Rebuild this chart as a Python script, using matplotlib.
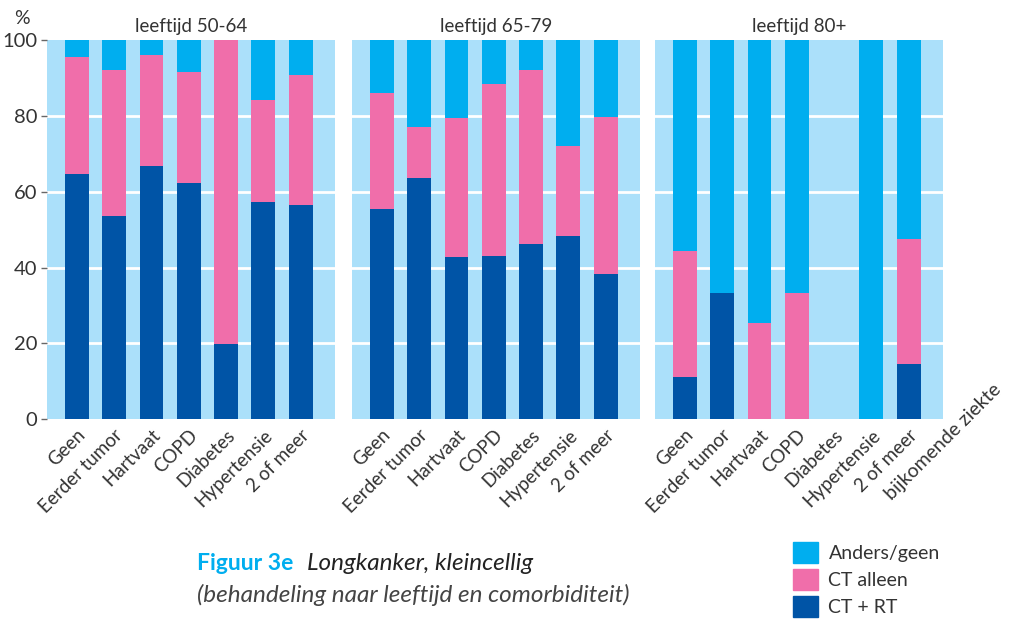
import matplotlib
matplotlib.use("Agg")
import matplotlib.pyplot as plt
from matplotlib.patches import Patch

plt.rcParams['font.family'] = ['Lato', 'DejaVu Sans']

categories = ['Geen', 'Eerder tumor', 'Hartvaat', 'COPD', 'Diabetes', 'Hypertensie', '2 of meer']
panel_titles = ['leeftijd 50-64', 'leeftijd 65-79', 'leeftijd 80+']

# percentages per age group, same order as categories
ct_rt = [
    [64.7, 53.6, 66.8, 62.3, 19.9, 57.3, 56.5],
    [55.4, 63.6, 42.8, 43.1, 46.3, 48.4, 38.3],
    [11.1, 33.3, 0.0, 0.0, 0.0, 0.0, 14.6],
]
ct_alleen = [
    [30.7, 38.5, 29.2, 29.3, 80.1, 26.9, 34.2],
    [30.6, 13.5, 36.7, 45.3, 45.8, 23.7, 41.4],
    [33.3, 0.0, 25.4, 33.3, 0.0, 0.0, 32.9],
]
anders = [
    [4.6, 7.9, 4.0, 8.4, 0.0, 15.8, 9.3],
    [14.0, 22.9, 20.5, 11.6, 7.9, 27.9, 20.3],
    [55.6, 66.7, 74.6, 66.7, 0.0, 100.0, 52.5],
]

c_dark = '#0054a6'
c_pink = '#f06eaa'
c_cyan = '#00aeef'
c_bg = '#abe0fa'
c_text = '#333333'

fig = plt.figure(figsize=(10.14, 6.28), dpi=100)
lefts = [47, 352, 655]
axes = []
for k in range(3):
    ax = fig.add_axes([lefts[k] / 1014, 1 - 419.3 / 628, 288 / 1014, 379.3 / 628])
    axes.append(ax)
    x = range(len(categories))
    ax.set_facecolor(c_bg)
    for v in [20, 40, 60, 80]:
        ax.axhline(v, color='white', lw=2, zorder=1)
    ax.bar(x, ct_rt[k], 0.64, color=c_dark, zorder=2)
    ax.bar(x, ct_alleen[k], 0.64, bottom=ct_rt[k], color=c_pink, zorder=2)
    bottoms = [a + b for a, b in zip(ct_rt[k], ct_alleen[k])]
    ax.bar(x, anders[k], 0.64, bottom=bottoms, color=c_cyan, zorder=2)
    ax.set_xlim(-0.8, 6.92)
    ax.set_ylim(0, 100)
    for s in ax.spines.values():
        s.set_visible(False)
    ax.set_xticks(list(x))
    ax.set_xticklabels(categories, rotation=45, ha='right', rotation_mode='anchor',
                       fontsize=13.5, color=c_text)
    ax.tick_params(axis='x', length=0, pad=5)
    ax.set_title(panel_titles[k], fontsize=13.5, color=c_text, pad=6)
    if k == 0:
        ax.set_yticks([0, 20, 40, 60, 80, 100])
        ax.tick_params(axis='y', length=4, width=1, color='#666666', labelsize=14.5,
                       labelcolor=c_text, pad=3)
    else:
        ax.set_yticks([])

axes[2].text(5.56, -21.5, 'bijkomende ziekte', rotation=45, ha='left', va='baseline',
             rotation_mode='anchor', fontsize=14, color=c_text, clip_on=False,
             transform=axes[2].transData)
fig.text(14 / 1014, 1 - 18 / 628, '%', fontsize=14, color=c_text, va='center')

fig.text(197 / 1014, 1 - 563 / 628, 'Figuur 3e', fontsize=16.5, fontweight='bold',
         color=c_cyan, va='center')
fig.text(307 / 1014, 1 - 563 / 628, 'Longkanker, kleincellig', fontsize=17.5,
         style='italic', color='#222222', va='center')
fig.text(197 / 1014, 1 - 595 / 628, '(behandeling naar leeftijd en comorbiditeit)',
         fontsize=17.5, style='italic', color='#444444', va='center')

handles = [Patch(color=c_cyan, label='Anders/geen'),
           Patch(color=c_pink, label='CT alleen'),
           Patch(color=c_dark, label='CT + RT')]
fig.legend(handles=handles, loc='upper left', bbox_to_anchor=(775 / 1014, 1 - 524 / 628),
           frameon=False, fontsize=14, handlelength=1.3, handleheight=1.3,
           labelspacing=0.3, handletextpad=0.55, labelcolor=c_text)

fig.savefig('out.png', dpi=100)
